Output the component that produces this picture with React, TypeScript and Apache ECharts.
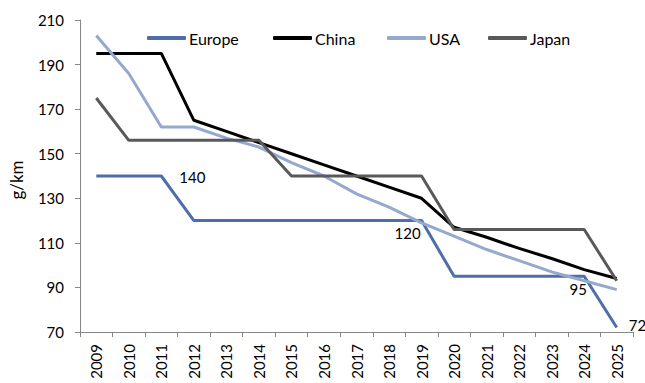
import React, { useEffect, useRef } from "react";
import * as echarts from "echarts";

const years = ["2009","2010","2011","2012","2013","2014","2015","2016","2017","2018","2019","2020","2021","2022","2023","2024","2025"];
const europe = [140,140,140,120,120,120,120,120,120,120,120,95,95,95,95,95,72];
const china = [195,195,195,165,160,155,150,145,140,135,130,117,112.5,107.5,103,98,94];
const usa = [203,186,162,162,157,153,146,140,132,126,119,113,107,102,97,93,89];
const japan = [175,156,156,156,156,156,140,140,140,140,140,116,116,116,116,116,93];
const europeLabelIdx = [2, 10, 15, 16];
const seriesNames = ["Europe", "China", "USA", "Japan"];

const FONT = "Lato";

export default function App() {
  const ref = useRef<HTMLDivElement>(null);
  useEffect(() => {
    if (!ref.current) return;
    const chart = echarts.init(ref.current, null, { renderer: "svg" });
    const labelCfg: Record<number, any> = {
      2: { position: "right", distance: 18, offset: [0, 1] },
      10: { position: "bottom", offset: [-14, 0] },
      15: { position: "bottom", offset: [-6, 0] },
      16: { position: "right", distance: 12, offset: [0, -3] },
    };
    const europeData = europe.map((v, i) =>
      europeLabelIdx.includes(i)
        ? { value: v, label: { show: true, color: "#000", fontFamily: FONT, fontSize: 15, ...labelCfg[i] } }
        : v
    );
    const colors = ["#4F6EA9", "#000000", "#95A8CE", "#595959"];
    const datas = [europeData, china, usa, japan];
    const mk = (i: number) => ({
      name: seriesNames[i],
      type: "line",
      data: datas[i],
      symbol: "circle",
      symbolSize: 0,
      showSymbol: i === 0,
      lineStyle: { color: colors[i], width: 3 },
      itemStyle: { color: colors[i] },
      label: { show: false },
      emphasis: { disabled: true },
    });
    const legendLefts = [142, 268, 382, 483];
    chart.setOption({
      animation: false,
      grid: { left: 75, top: 20, right: 12, bottom: 51 },
      legend: seriesNames.map((n, i) => ({
        top: 25,
        left: legendLefts[i],
        itemWidth: 39,
        itemHeight: 4,
        icon: "roundRect",
        itemStyle: { color: colors[i] },
        textStyle: { fontFamily: FONT, fontSize: 16, color: "#000", padding: [0, 0, 0, -2] },
        data: [n],
      })),
      xAxis: {
        type: "category",
        data: years,
        boundaryGap: true,
        axisLine: { lineStyle: { color: "#868686", width: 1 } },
        axisTick: { show: true, alignWithLabel: false, length: 5, lineStyle: { color: "#868686" } },
        axisLabel: { rotate: 90, fontFamily: FONT, fontSize: 15, color: "#000", margin: 12, interval: 0 },
      },
      yAxis: {
        type: "value",
        min: 70,
        max: 210,
        interval: 20,
        name: "g/km",
        nameLocation: "middle",
        nameGap: 55,
        nameTextStyle: { fontFamily: FONT, fontSize: 17, color: "#000", padding: [0, 0, 0, -8] },
        axisLine: { show: true, lineStyle: { color: "#868686", width: 1 } },
        axisTick: { show: true, length: 5, lineStyle: { color: "#868686" } },
        axisLabel: { fontFamily: FONT, fontSize: 15, color: "#000", margin: 16 },
        splitLine: { show: false },
      },
      series: [mk(0), mk(1), mk(2), mk(3)],
    });
    return () => chart.dispose();
  }, []);
  return <div ref={ref} style={{ width: 645, height: 383, position: "absolute", left: 0, top: 0 }} />;
}
